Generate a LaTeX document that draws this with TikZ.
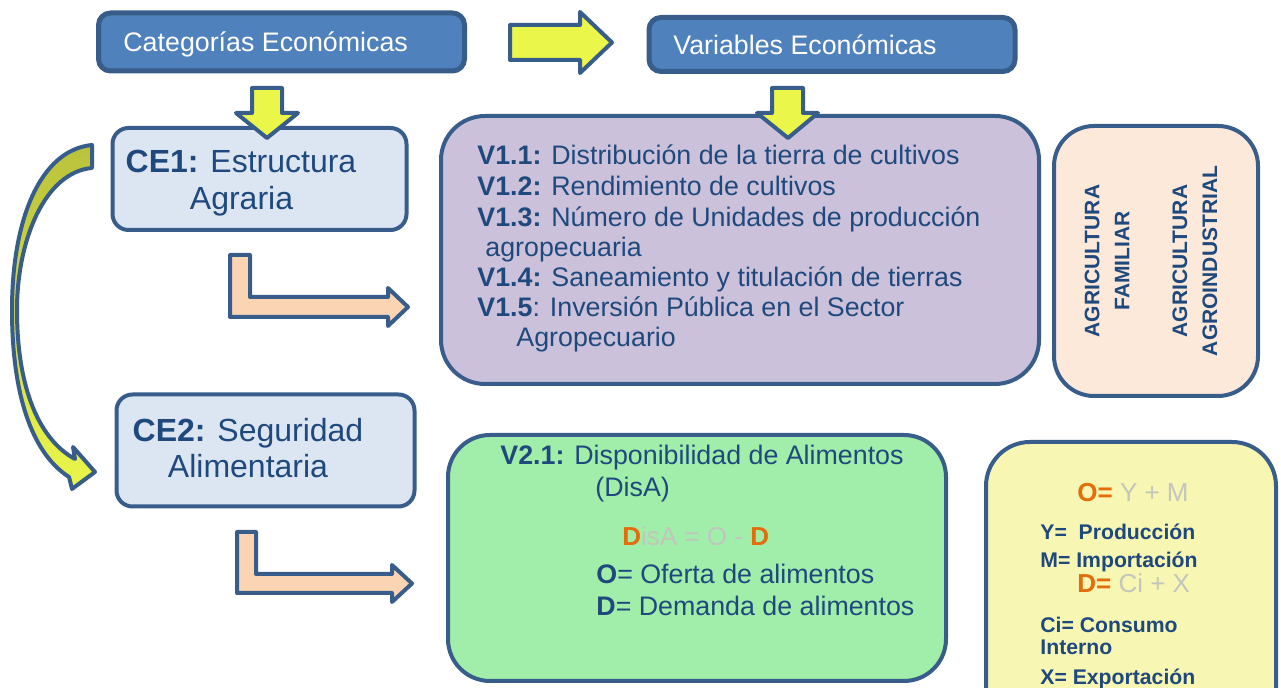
\documentclass[tikz,border=0pt]{standalone}
\usepackage{fontspec}
\setmainfont{Liberation Sans}
\usetikzlibrary{positioning}
\definecolor{bordeAz}{HTML}{385D8A}
\definecolor{textoAz}{HTML}{1F497D}
\definecolor{azHdr}{HTML}{4F81BD}
\definecolor{amarillo}{HTML}{EAF64A}
\definecolor{olivo}{HTML}{BAC23C}
\definecolor{celeste}{HTML}{DCE6F2}
\definecolor{lila}{HTML}{CCC1DA}
\definecolor{durazno}{HTML}{FBD4B4}
\definecolor{crema}{HTML}{FCE9DA}
\definecolor{verde}{HTML}{A0EEAA}
\definecolor{limon}{HTML}{F8F6B3}
\definecolor{naranja}{HTML}{E46C0A}
\definecolor{gris}{HTML}{C2C6BC}
\newcommand{\tO}{{\color{naranja}\bfseries O}}
\newcommand{\tD}{{\color{naranja}\bfseries D}}

\begin{document}
\begin{tikzpicture}[x=0.5pt,y=-0.5pt,line join=round,
		caja/.style={rectangle,rounded corners=#1,draw=bordeAz,line width=2pt,inner sep=0pt},
		caja/.default=7pt,
		hdr/.style={caja=6pt,fill=azHdr,line width=2.5pt},
		flechaA/.style={draw=bordeAz,line width=2pt,fill=amarillo},
		flechaL/.style={draw=bordeAz,line width=2pt,fill=durazno},
		txt/.style={anchor=base west,inner sep=0pt,text=textoAz,font=\fontsize{13.4}{15.2}\selectfont},
		txtB/.style={anchor=base west,inner sep=0pt,text=textoAz,font=\fontsize{10.6}{12}\selectfont\bfseries},
		txtCE/.style={anchor=base,inner sep=0pt,text=textoAz,font=\fontsize{16}{18}\selectfont}]
		\useasboundingbox (0,0) rectangle (1281,688);

		% encabezados
		\node[hdr,minimum width=183pt,minimum height=29pt] (catE) at (281.5,42) {};
		\node[txt,text=white] (catT) at (123,52) {Categorías Económicas};
		\node[hdr,minimum width=183pt,minimum height=27pt] (varE) at (832,44.5) {};
		\node[txt,text=white] (varT) at (673,55) {Variables Económicas};

		% cajas
		\node[caja=8pt,fill=celeste,minimum width=147pt,minimum height=51pt] (ce1) at (259.5,179) {};
		\node[caja=8pt,fill=celeste,minimum width=149pt,minimum height=56pt] (ce2) at (265.5,450.5) {};
		\node[caja=22pt,fill=lila,minimum width=299pt,minimum height=134pt] (v1) at (740,250) {};
		\node[caja=20pt,fill=crema,minimum width=102pt,minimum height=135pt] (agri) at (1156,261) {};
		\node[caja=21pt,fill=verde,minimum width=249pt,minimum height=123pt] (v2) at (697,558) {};
		\begin{scope}
			\clip (0,0) rectangle (1281,688);
			\node[caja=22pt,fill=limon,minimum width=145pt,minimum height=150pt] (ofer) at (1131,592) {};
		\end{scope}

		% flechas
		\draw[flechaA] (510,25) -- (580,25) -- (580,12) -- (612,42.5) -- (580,73) -- (580,60) -- (510,60) -- cycle;
		\draw[flechaA] (252,88) -- (282,88) -- (282,113) -- (298,113) -- (267,138) -- (236,113) -- (252,113) -- cycle;
		\draw[flechaA] (772,88) -- (803,88) -- (803,113) -- (818,113) -- (788,138) -- (757,113) -- (772,113) -- cycle;
		\draw[draw=bordeAz,line width=2pt,top color=olivo,bottom color=amarillo]
		(92,145) -- (92,168) .. controls (45,172) and (17,240) .. (17,310)
		.. controls (17,390) and (40,440) .. (75,459) -- (73,447) -- (95,472) -- (72,489) -- (69,477)
		.. controls (30,452) and (12,390) .. (12,310) .. controls (12,220) and (40,150) .. (92,145) -- cycle;
		\draw[flechaL] (230,255) -- (250,255) -- (250,297) -- (388,297) -- (388,288) -- (408,307) -- (388,326) -- (388,317) -- (230,317) -- cycle;
		\draw[flechaL] (237,532) -- (256,532) -- (256,574) -- (392,574) -- (392,565) -- (412,583.5) -- (392,602) -- (392,593) -- (237,593) -- cycle;

		% textos CE
		\node[txtCE] (ce1a) at (241,173) {\textbf{CE1:} Estructura};
		\node[txtCE] (ce1b) at (241.5,210) {Agraria};
		\node[txtCE] (ce2a) at (248,442) {\textbf{CE2:} Seguridad};
		\node[txtCE] (ce2b) at (248,478) {Alimentaria};

		% variables V1
		\node[txt] (l1) at (477,165) {\textbf{V1.1:} Distribución de la tierra de cultivos};
		\node[txt] (l2) at (477,196) {\textbf{V1.2:} Rendimiento de cultivos};
		\node[txt] (l3) at (477,227) {\textbf{V1.3:} Número de Unidades de producción};
		\node[txt] (l4) at (485,257) {agropecuaria};
		\node[txt] (l5) at (477,287) {\textbf{V1.4:} Saneamiento y titulación de tierras};
		\node[txt] (l6) at (477,317) {\textbf{V1.5}: Inversión Pública en el Sector};
		\node[txt] (l7) at (516,347) {Agropecuario};

		\node[rotate=90,align=center,inner sep=0pt,text=textoAz,font=\fontsize{10.5}{15}\selectfont\bfseries]
		(fam) at (1107,261) {AGRICULTURA\\FAMILIAR};
		\node[rotate=90,align=center,inner sep=0pt,text=textoAz,font=\fontsize{10.5}{15}\selectfont\bfseries]
		(agro) at (1195,261) {AGRICULTURA\\AGROINDUSTRIAL};

		% variable V2
		\node[txt] (m1) at (500,465) {\textbf{V2.1:} Disponibilidad de Alimentos};
		\node[txt] (m2) at (595,497) {(DisA)};
		\node[txt,font=\fontsize{13}{15}\selectfont,text=gris] (m3) at (622,546) {\tD isA = O - \tD};
		\node[txt] (m4) at (596,584) {\textbf{O}= Oferta de alimentos};
		\node[txt] (m5) at (596,616) {\textbf{D}= Demanda de alimentos};

		% formulas
		\node[txt,font=\fontsize{13}{15}\selectfont,text=gris] (f1) at (1077,502) {\tO{\color{naranja}\bfseries=} Y + M};
		\node[txtB] (f2) at (1040,540) {Y=\ \ Producción};
		\node[txtB] (f3) at (1040,568) {M= Importación};
		\node[txt,font=\fontsize{13}{15}\selectfont,text=gris] (f4) at (1077,593) {\tD{\color{naranja}\bfseries=} Ci + X};
		\node[txtB] (f5) at (1040,633) {Ci= Consumo};
		\node[txtB] (f6) at (1040,655) {Interno};
		\node[txtB] (f7) at (1040,685) {X= Exportación};
\end{tikzpicture}
\end{document}
